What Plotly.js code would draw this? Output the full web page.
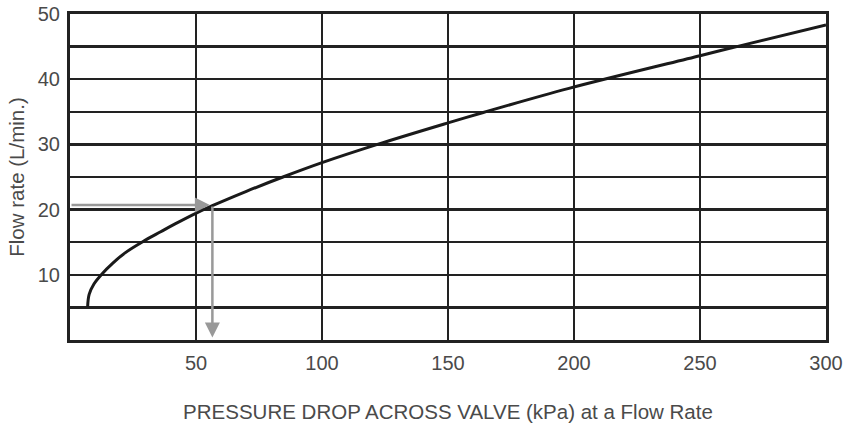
<!DOCTYPE html>
<html>
<head>
<meta charset="utf-8">
<script src="https://cdn.plot.ly/plotly-3.0.1.min.js"></script>
<style>html,body{margin:0;padding:0;background:#fff;}#chart{width:853px;height:427px;}</style>
</head>
<body>
<div id="chart"></div>
<script>
// Curve: pressure drop (kPa) vs flow rate (L/min)
const pressureDrop = [7, 7.6, 9.5, 12.6, 17, 22, 29, 36, 41.7, 50.3, 56.5, 70, 84.5, 100, 122, 150, 164, 198, 250, 264.6, 300];
const flowRate     = [5.1, 7.0, 8.6, 10.1, 11.8, 13.4, 15.1, 16.6, 17.8, 19.5, 20.6, 22.8, 25, 27.2, 30, 33.3, 34.9, 38.6, 43.6, 45, 48.3];

// Reading example (arrows)
const readPressure = [56.5];
const readFlow = [20.7];

// Axis ticks
const xTickVals = [50, 100, 150, 200, 250, 300];
const xTickText = ['50', '100', '150', '200', '250', '300'];
const yTickVals = [0, 5, 10, 15, 20, 25, 30, 35, 40, 45, 50];
const yTickText = ['', '', '10', '', '20', '', '30', '', '40', '', '50'];

const font = 'Liberation Sans, Arial, sans-serif';
const textColor = '#4a4a4a';

const trace = {
  x: pressureDrop,
  y: flowRate,
  type: 'scatter',
  mode: 'lines',
  line: {color: '#1a1a1a', width: 3, shape: 'spline', smoothing: 1},
  hoverinfo: 'skip'
};

const layout = {
  width: 853,
  height: 427,
  margin: {l: 70, r: 27, t: 14, b: 87},
  paper_bgcolor: '#ffffff',
  plot_bgcolor: '#ffffff',
  showlegend: false,
  xaxis: {
    range: [0, 300],
    tickmode: 'array',
    tickvals: xTickVals,
    ticktext: xTickText,
    showgrid: true,
    gridcolor: '#222222',
    gridwidth: 2.5,
    zeroline: false,
    showline: true,
    linecolor: '#222222',
    linewidth: 3,
    mirror: true,
    ticks: '',
    ticklabelstandoff: 3,
    tickfont: {family: font, size: 20, color: textColor},
    title: {text: 'PRESSURE DROP ACROSS VALVE (kPa) at a Flow Rate', font: {family: font, size: 20.5, color: textColor}, standoff: 32}
  },
  yaxis: {
    range: [0, 50],
    tickmode: 'array',
    tickvals: yTickVals,
    ticktext: yTickText,
    showgrid: true,
    gridcolor: '#222222',
    gridwidth: 2.5,
    zeroline: false,
    showline: true,
    linecolor: '#222222',
    linewidth: 3,
    mirror: true,
    ticks: '',
    ticklabelstandoff: 3,
    tickfont: {family: font, size: 20, color: textColor},
    title: {text: 'Flow rate (L/min.)', font: {family: font, size: 20.5, color: textColor}, standoff: 8}
  },
  annotations: [
    {
      x: readPressure[0] - 1, y: readFlow[0], xref: 'x', yref: 'y',
      ax: 0, ay: readFlow[0], axref: 'x', ayref: 'y',
      text: '', showarrow: true, arrowhead: 2, arrowsize: 1.2, arrowwidth: 2.5, arrowcolor: '#999999'
    },
    {
      x: readPressure[0], y: 0.4, xref: 'x', yref: 'y',
      ax: readPressure[0], ay: readFlow[0], axref: 'x', ayref: 'y',
      text: '', showarrow: true, arrowhead: 2, arrowsize: 1.2, arrowwidth: 2.5, arrowcolor: '#999999'
    }
  ]
};

Plotly.newPlot('chart', [trace], layout, {displayModeBar: false, staticPlot: true});
</script>
</body>
</html>
